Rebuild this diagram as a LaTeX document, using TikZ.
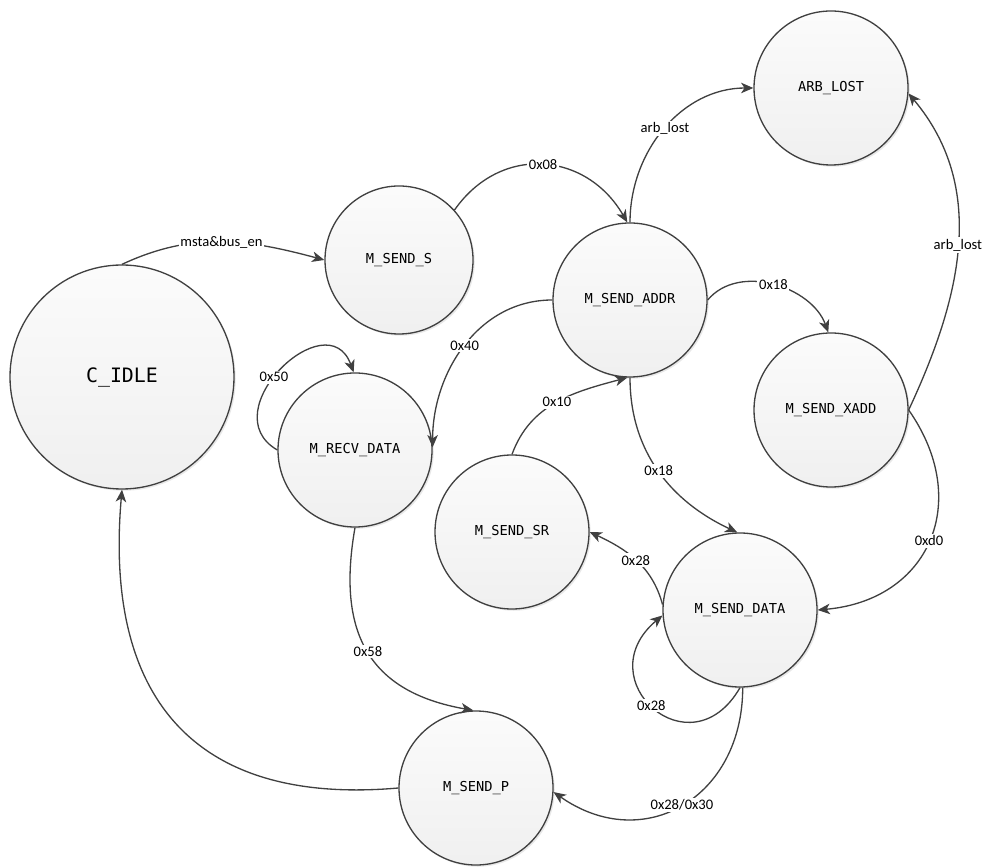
\documentclass[tikz,border=0pt]{standalone}
\usepackage{fontspec}
\newfontfamily\statefont{DejaVu Sans Mono}
\newfontfamily\edgefont{Carlito}
\usetikzlibrary{arrows.meta,shadows}

\begin{document}
\begin{tikzpicture}[
  >={Stealth[length=7pt,width=6pt,inset=2pt]}, line width=0.75pt,
  every node/.style={font=\edgefont\fontsize{8.3}{10}\selectfont},
  state/.style={draw=black!75, circle, minimum size=3.08cm, inner sep=0pt,
    top color=gray!3, bottom color=gray!12,
    drop shadow={shadow xshift=1pt, shadow yshift=-1pt, opacity=0.18},
    font=\statefont\fontsize{7.8}{9}\selectfont},
  cond/.style={fill=white, inner sep=1pt},
  trans/.style={->, draw=black!75},
]
\useasboundingbox (0,0) rectangle (19.64,17.32);

% states
\node[state, minimum size=4.48cm, font=\statefont\fontsize{11.3}{13}\selectfont]
  (IDLE) at (2.44, 9.78) {C\_IDLE};
\node[state, minimum size=2.96cm] (SS) at (7.98, 12.12) {M\_SEND\_S};
\node[state] (ADDR) at (12.6, 11.32) {M\_SEND\_ADDR};
\node[state] (ARB) at (16.62, 15.56) {ARB\_LOST};
\node[state] (XADD) at (16.62, 9.12) {M\_SEND\_XADD};
\node[state] (RECV) at (7.10, 8.32) {M\_RECV\_DATA};
\node[state] (SR) at (10.24, 6.68) {M\_SEND\_SR};
\node[state] (DATA) at (14.80, 5.12) {M\_SEND\_DATA};
\node[state] (P) at (9.52, 1.56) {M\_SEND\_P};

% transitions
\draw[trans] (IDLE.90) to[out=25, in=165]
  node[cond] {msta\&bus\_en} (SS.180);
\draw[trans] (SS.42) to[out=55, in=120, looseness=1.2]
  node[cond] {0x08} (ADDR.92);
\draw[trans] (ADDR.90) to[out=90, in=180]
  node[cond] {arb\_lost} (ARB.180);
\draw[trans] (ADDR.0) to[out=50, in=110]
  node[cond] {0x18} (XADD.92);
\draw[trans] (ADDR.180) to[out=180, in=90]
  node[cond] {0x40} (RECV.2);
\draw[trans] (RECV.180) to[out=150, in=110, looseness=1.8]
  node[cond, pos=0.45] {0x50} (RECV.91);
\draw[trans] (SR.90) to[out=70, in=195]
  node[cond] {0x10} (ADDR.-92);
\draw[trans] (ADDR.-90) to[out=270, in=155]
  node[cond] {0x18} (DATA.92);
\draw[trans] (XADD.0) to[out=65, in=-50]
  node[cond] {arb\_lost} (ARB.-4);
\draw[trans] (XADD.0) to[out=-55, in=5, looseness=1.3]
  node[cond] {0xd0} (DATA.0);
\draw[trans] (DATA.176) to[out=105, in=-25]
  node[cond] {0x28} (SR.0);
\draw[trans] (DATA.-90) to[out=240, in=220, looseness=2.4]
  node[cond, pos=0.52] {0x28} (DATA.184);
\draw[trans] (DATA.-88) to[out=-90, in=-35, looseness=1.3]
  node[cond] {0x28/0x30} (P.-3);
\draw[trans] (RECV.-90) to[out=260, in=170, looseness=1.25]
  node[cond, pos=0.5] {0x58} (P.92);
\draw[trans] (P.180) to[out=185, in=265, looseness=1.3] (IDLE.-90);
\end{tikzpicture}
\end{document}
